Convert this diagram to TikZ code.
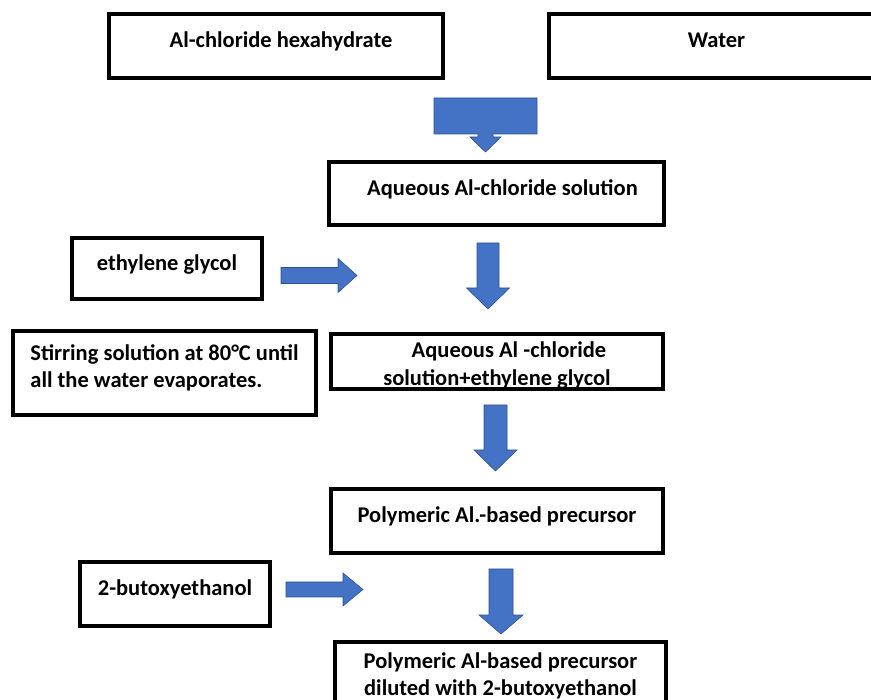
\documentclass[tikz,border=0pt]{standalone}
\usepackage{fontspec}
\setmainfont{Carlito}
\usepackage{xcolor}
\usepackage{tikz}
\definecolor{arrowblue}{HTML}{4472C4}
\definecolor{arrowedge}{HTML}{2F528F}

% block arrows: centre, start, head start, tip, body half width, head half width
\newcommand{\downblock}[6]{\filldraw[barrow] ({#1-#5},#2) -- ({#1+#5},#2) -- ({#1+#5},#3) -- ({#1+#6},#3) -- (#1,#4) -- ({#1-#6},#3) -- ({#1-#5},#3) -- cycle;}
\newcommand{\rightblock}[6]{\filldraw[barrow] (#2,{#1-#5}) -- (#3,{#1-#5}) -- (#3,{#1-#6}) -- (#4,#1) -- (#3,{#1+#6}) -- (#3,{#1+#5}) -- (#2,{#1+#5}) -- cycle;}

\begin{document}
\begin{tikzpicture}[x=1pt, y=-1pt,
    box/.style={draw, line width=4pt, inner sep=0pt, font=\fontsize{22.5}{27.5}\selectfont\bfseries},
    oneline/.style={text height=14pt, text depth=10pt},
    barrow/.style={fill=arrowblue, draw=arrowedge, line width=0.6pt}]
    \useasboundingbox (0,0) rectangle (871,700);

    \node[box, oneline, minimum width=334pt, minimum height=64pt] (hexa) at (276,46) {\hspace*{10pt}Al-chloride hexahydrate};
    \node[box, oneline, minimum width=336pt, minimum height=64pt] (water) at (716.5,46) {Water};
    \node[box, oneline, minimum width=335pt, minimum height=63pt] (aq) at (496.5,193.5) {\hspace*{12pt}Aqueous Al-chloride solution};
    \node[box, oneline, minimum width=190pt, minimum height=61pt] (glycol) at (167,268.5) {ethylene glycol};
    \node[box, align=left, minimum width=303pt, minimum height=84pt] (stir) at (164.5,373) {Stirring solution at 80°C until\\all the water evaporates.\\[-14pt]\mbox{}};
    \node[box, align=center, minimum width=332pt, minimum height=55pt] (mix) at (497,361.5) {\mbox{}\\[-4pt]\hspace*{24pt}Aqueous Al -chloride\\solution+ethylene glycol};
    \node[box, oneline, minimum width=332pt, minimum height=64pt] (poly) at (497,521) {Polymeric Al.-based precursor};
    \node[box, oneline, minimum width=190pt, minimum height=64pt] (buto) at (175,594) {2-butoxyethanol};
    \node[box, align=center, minimum width=331pt, minimum height=68pt] (dil) at (500.5,676) {Polymeric Al-based precursor\\diluted with 2-butoxyethanol};

    % wide arrow under the two starting boxes
    \filldraw[barrow] (434,98) -- (537,98) -- (537,134) -- (493,134) -- (493,137) -- (501,137) -- (485.5,152) -- (470,137) -- (478,137) -- (478,134) -- (434,134) -- cycle;

    \rightblock{275.5}{281}{338}{357}{8}{17}
    \downblock{488}{243}{288}{309}{11}{21.5}
    \downblock{495.5}{405}{450}{471}{11.5}{21.5}
    \rightblock{589.5}{286}{343}{363}{7.5}{16.5}
    \downblock{501}{569}{615}{634}{12}{22}
\end{tikzpicture}
\end{document}
